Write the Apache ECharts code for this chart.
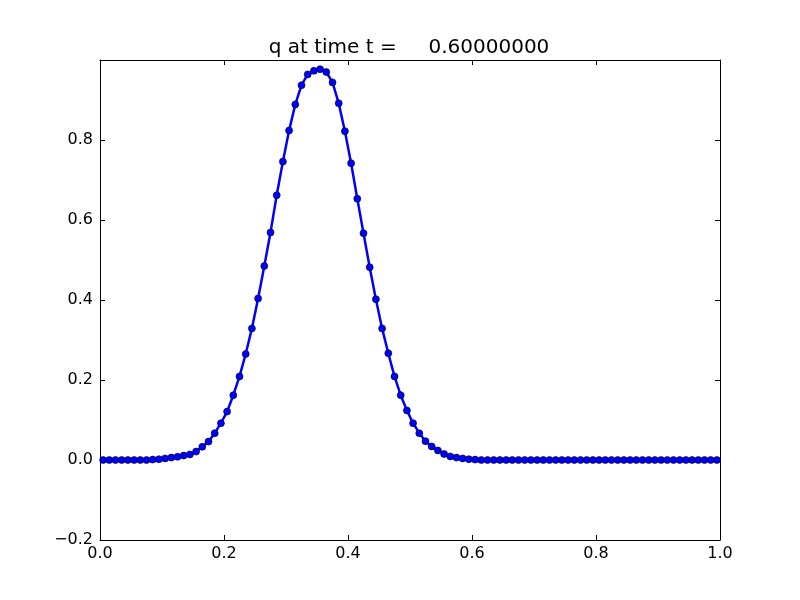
<!DOCTYPE html>
<html>
<head>
<meta charset="utf-8">
<script src="https://cdn.jsdelivr.net/npm/echarts@6/dist/echarts.min.js"></script>
<style>html,body{margin:0;padding:0;background:#fff;}#c{width:800px;height:600px;}</style>
</head>
<body>
<div id="c"></div>
<script>
const titleText = "q at time t =     0.60000000";
const xValues = [
 0.005,0.015,0.025,0.035,0.045,0.055,0.065,0.075,0.085,0.095,
 0.105,0.115,0.125,0.135,0.145,0.155,0.165,0.175,0.185,0.195,
 0.205,0.215,0.225,0.235,0.245,0.255,0.265,0.275,0.285,0.295,
 0.305,0.315,0.325,0.335,0.345,0.355,0.365,0.375,0.385,0.395,
 0.405,0.415,0.425,0.435,0.445,0.455,0.465,0.475,0.485,0.495,
 0.505,0.515,0.525,0.535,0.545,0.555,0.565,0.575,0.585,0.595,
 0.605,0.615,0.625,0.635,0.645,0.655,0.665,0.675,0.685,0.695,
 0.705,0.715,0.725,0.735,0.745,0.755,0.765,0.775,0.785,0.795,
 0.805,0.815,0.825,0.835,0.845,0.855,0.865,0.875,0.885,0.895,
 0.905,0.915,0.925,0.935,0.945,0.955,0.965,0.975,0.985,0.995
];
const qValues = [
 0,0,0,0,0,0,0,0,0.001,0.002,
 0.004,0.006,0.008,0.011,0.014,0.021,0.033,0.046,0.067,0.092,
 0.121,0.162,0.209,0.265,0.329,0.404,0.485,0.569,0.662,0.746,
 0.824,0.889,0.937,0.964,0.973,0.977,0.970,0.944,0.892,0.822,
 0.742,0.653,0.567,0.482,0.402,0.329,0.267,0.209,0.162,0.124,
 0.092,0.067,0.047,0.034,0.024,0.015,0.009,0.006,0.004,0.002,
 0.001,0,0,0,0,0,0,0,0,0,
 0,0,0,0,0,0,0,0,0,0,
 0,0,0,0,0,0,0,0,0,0,
 0,0,0,0,0,0,0,0,0,0
];
const xTicks = [0.0, 0.2, 0.4, 0.6, 0.8, 1.0];
const yTicks = [-0.2, 0.0, 0.2, 0.4, 0.6, 0.8];

const font = "'DejaVu Sans', sans-serif";
const fmt = v => v.toFixed(1).replace('-', '\u2212');
const pts = xValues.map((x, i) => [x, qValues[i]]);

const chart = echarts.init(document.getElementById('c'), null, {renderer: 'canvas'});
const axisLine = {show: true, onZero: false, lineStyle: {color: '#000', width: 1}};
const tick = {show: true, inside: true, length: 5, lineStyle: {color: '#000', width: 1}};
chart.setOption({
  animation: false,
  backgroundColor: '#fff',
  title: {
    text: titleText, left: 410, textAlign: 'center', top: 33,
    textStyle: {fontFamily: font, fontSize: 20, fontWeight: 'normal', color: '#000'}
  },
  grid: {left: 100, right: 80, top: 60, bottom: 60, containLabel: false},
  xAxis: [{
    type: 'value', min: 0, max: 1, interval: 0.2, position: 'bottom',
    axisLine: axisLine, axisTick: tick, splitLine: {show: false},
    axisLabel: {fontFamily: font, fontSize: 16, color: '#000', margin: 6, formatter: fmt}
  }, {
    type: 'value', min: 0, max: 1, interval: 0.2, position: 'top',
    axisLine: axisLine, axisTick: tick, splitLine: {show: false}, axisLabel: {show: false}
  }],
  yAxis: [{
    type: 'value', min: -0.2, max: 1.0, interval: 0.2, position: 'left',
    axisLine: axisLine, axisTick: tick, splitLine: {show: false},
    axisLabel: {fontFamily: font, fontSize: 16, color: '#000', margin: 7, formatter: fmt, showMaxLabel: false}
  }, {
    type: 'value', min: -0.2, max: 1.0, interval: 0.2, position: 'right',
    axisLine: axisLine, axisTick: tick, splitLine: {show: false}, axisLabel: {show: false}
  }],
  series: [{
    type: 'line', data: pts, xAxisIndex: 0, yAxisIndex: 0,
    lineStyle: {color: '#0000ff', width: 2.5},
    symbol: 'circle', symbolSize: 7, showAllSymbol: true,
    itemStyle: {color: '#0000ff', borderColor: '#000', borderWidth: 0.6},
    clip: true
  }]
});
chart.setOption({title: {left: 404}});
</script>
</body>
</html>
